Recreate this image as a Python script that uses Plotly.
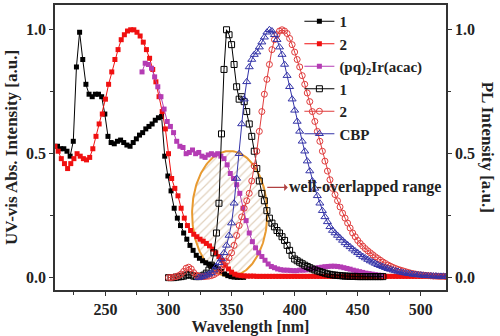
import numpy as np
import plotly.graph_objects as go

# ---------------- data ----------------
abs1_start, abs1_step = 212, 2.5
abs1_vals = [0.53, 0.52, 0.52, 0.51, 0.49, 0.55, 0.85, 0.99, 0.88, 0.78,
             0.74, 0.73, 0.74, 0.74, 0.73, 0.66, 0.57, 0.545, 0.54, 0.55,
             0.555, 0.545, 0.535, 0.53, 0.545, 0.56, 0.575, 0.585, 0.60, 0.61,
             0.62, 0.635, 0.645, 0.65, 0.49, 0.41, 0.35, 0.28, 0.24, 0.21,
             0.18, 0.155, 0.13, 0.11, 0.09, 0.078, 0.068, 0.06, 0.054, 0.048,
             0.043, 0.035, 0.025, 0.015, 0.008, 0.004, 0.002, 0.001, 0.001, 0.001]

abs2_start, abs2_step = 210, 2.5
abs2_vals = [0.53, 0.51, 0.48, 0.46, 0.44, 0.46, 0.48, 0.50, 0.49, 0.48,
             0.475, 0.485, 0.52, 0.57, 0.62, 0.66, 0.72, 0.78, 0.83, 0.88,
             0.92, 0.96, 0.98, 0.995, 1.0, 1.0, 0.99, 0.975, 0.95, 0.92,
             0.885, 0.84, 0.79, 0.73, 0.67, 0.60, 0.50, 0.40, 0.36, 0.33,
             0.28, 0.24, 0.21, 0.19, 0.175, 0.165, 0.155, 0.147, 0.138, 0.128,
             0.115, 0.10, 0.085, 0.07, 0.05, 0.035, 0.022, 0.014, 0.010, 0.008,
             0.007, 0.006, 0.006, 0.006, 0.005, 0.005, 0.005, 0.005, 0.005, 0.005,
             0.005, 0.005, 0.005, 0.005, 0.005, 0.005, 0.005, 0.005, 0.005, 0.005,
             0.005, 0.005, 0.005, 0.005, 0.005, 0.005, 0.005, 0.005, 0.005, 0.005,
             0.005, 0.005, 0.005, 0.005, 0.005, 0.005, 0.005, 0.005, 0.005, 0.005,
             0.005, 0.005, 0.005, 0.005, 0.005, 0.005, 0.005, 0.005, 0.005, 0.005,
             0.005, 0.005, 0.005, 0.005, 0.005, 0.005, 0.005, 0.005, 0.005, 0.005,
             0.005, 0.005, 0.005, 0.005, 0.005]

pq_start, pq_step = 279, 2.5
pq_vals = [0.83, 0.865, 0.86, 0.845, 0.81, 0.77, 0.73, 0.68, 0.63, 0.61,
           0.585, 0.55, 0.53, 0.525, 0.50, 0.505, 0.515, 0.50, 0.505, 0.49,
           0.485, 0.495, 0.50, 0.495, 0.50, 0.49, 0.48, 0.455, 0.42, 0.40,
           0.375, 0.34, 0.28, 0.23, 0.18, 0.145, 0.12, 0.10, 0.085, 0.07,
           0.055, 0.045, 0.04, 0.035, 0.032, 0.03, 0.03, 0.029, 0.028, 0.028,
           0.03, 0.03, 0.031, 0.033, 0.035, 0.038, 0.04, 0.042, 0.044, 0.045,
           0.046, 0.046, 0.045, 0.043, 0.04, 0.037, 0.034, 0.03, 0.027, 0.024,
           0.021, 0.018, 0.016, 0.014, 0.012, 0.010, 0.009]

pl1_start, pl1_step = 300, 2
pl1_vals = [0.0, 0.0, 0.0, 0.002, 0.003, 0.004, 0.006, 0.010, 0.012, 0.010,
            0.006, 0.004, 0.004, 0.006, 0.010, 0.018, 0.03, 0.05, 0.10, 0.18,
            0.30, 0.58, 0.84, 1.0, 0.98, 0.94, 0.86, 0.77, 0.72, 0.73,
            0.71, 0.67, 0.62, 0.57, 0.51, 0.44, 0.39, 0.34, 0.31, 0.27,
            0.24, 0.22, 0.205, 0.19, 0.18, 0.165, 0.15, 0.13, 0.11, 0.09,
            0.075, 0.068, 0.062, 0.056, 0.05, 0.045, 0.04, 0.035, 0.031, 0.027,
            0.024, 0.021, 0.018, 0.015, 0.013, 0.011, 0.010, 0.009, 0.008, 0.007,
            0.006, 0.006, 0.005, 0.005, 0.005, 0.004, 0.004, 0.004, 0.004, 0.004,
            0.004, 0.004, 0.004, 0.004, 0.004, 0.004]

pl2_start, pl2_step = 300, 2
pl2_vals = [0.0, 0.0, 0.002, 0.004, 0.008, 0.014, 0.025, 0.038, 0.042, 0.035,
            0.02, 0.01, 0.006, 0.004, 0.004, 0.005, 0.006, 0.008, 0.012, 0.018,
            0.025, 0.035, 0.05, 0.065, 0.08, 0.10, 0.13, 0.17, 0.21, 0.245,
            0.28, 0.31, 0.34, 0.39, 0.45, 0.51, 0.59, 0.67, 0.74, 0.80,
            0.86, 0.92, 0.96, 0.98, 0.995, 1.0, 0.995, 0.985, 0.965, 0.94,
            0.91, 0.88, 0.85, 0.815, 0.78, 0.745, 0.71, 0.67, 0.63, 0.59,
            0.55, 0.51, 0.47, 0.43, 0.395, 0.36, 0.335, 0.31, 0.285, 0.26,
            0.24, 0.22, 0.20, 0.18, 0.165, 0.15, 0.138, 0.127, 0.117, 0.108,
            0.10, 0.092, 0.084, 0.077, 0.07, 0.063, 0.057, 0.051, 0.046, 0.041,
            0.037, 0.033, 0.03, 0.027, 0.024, 0.021, 0.018, 0.016, 0.014, 0.012,
            0.011, 0.010, 0.009, 0.008, 0.007, 0.006, 0.006, 0.005, 0.005, 0.005, 0.004]

cbp_start, cbp_step = 324, 2
cbp_vals = [0.0, 0.003, 0.006, 0.010, 0.014, 0.02, 0.03, 0.045, 0.06, 0.075,
            0.10, 0.13, 0.17, 0.22, 0.30, 0.40, 0.50, 0.62, 0.72, 0.79,
            0.85, 0.88, 0.90, 0.91, 0.93, 0.95, 0.97, 0.99, 1.0, 0.995,
            0.98, 0.96, 0.93, 0.90, 0.86, 0.815, 0.77, 0.72, 0.675, 0.63,
            0.59, 0.55, 0.51, 0.47, 0.43, 0.39, 0.36, 0.33, 0.30, 0.27,
            0.245, 0.225, 0.205, 0.19, 0.18, 0.17, 0.16, 0.15, 0.14, 0.132,
            0.124, 0.115, 0.107, 0.10, 0.092, 0.085, 0.079, 0.073, 0.067, 0.062,
            0.057, 0.052, 0.048, 0.044, 0.04, 0.036, 0.033, 0.03, 0.027, 0.025,
            0.022, 0.02, 0.018, 0.016, 0.015, 0.013, 0.012, 0.011, 0.010, 0.009,
            0.008, 0.007, 0.007, 0.006, 0.006, 0.005, 0.005, 0.005, 0.004]

x_ticks = [250, 300, 350, 400, 450, 500]
y_ticks = [0.0, 0.5, 1.0]
y_ticktext = ["0.0", "0.5", "1.0"]

# overlap ellipse (annotation region): centre and semi-axes in data units
ell_cx, ell_cy, ell_rx, ell_ry = 348.5, 0.258, 29.8, 0.253


def xs(start, step, vals):
    return start + step * np.arange(len(vals))


FONT = "Liberation Serif"
fig = go.Figure()

t = np.linspace(0, 2 * np.pi, 200)
fig.add_trace(go.Scatter(
    x=ell_cx + ell_rx * np.cos(t), y=ell_cy + ell_ry * np.sin(t),
    mode="lines", fill="toself", fillcolor="rgba(0,0,0,0)",
    fillpattern=dict(shape="/", fgcolor="#c4a47c", bgcolor="rgba(0,0,0,0)", size=6, solidity=0.2),
    line=dict(color="#e89a30", width=2), showlegend=False, hoverinfo="skip"))

fig.add_trace(go.Scatter(
    x=xs(abs1_start, abs1_step, abs1_vals), y=abs1_vals, name="1",
    mode="lines+markers", line=dict(color="black", width=1),
    marker=dict(symbol="square", size=5, color="black")))
fig.add_trace(go.Scatter(
    x=xs(abs2_start, abs2_step, abs2_vals), y=abs2_vals, name="2",
    mode="lines+markers", line=dict(color="#f01010", width=1),
    marker=dict(symbol="square", size=5, color="#f01010")))
fig.add_trace(go.Scatter(
    x=xs(pq_start, pq_step, pq_vals), y=pq_vals, name="(pq)<sub>2</sub>Ir(acac)",
    mode="lines+markers", line=dict(color="#b43cb4", width=1),
    marker=dict(symbol="square", size=5, color="#b43cb4")))
fig.add_trace(go.Scatter(
    x=xs(pl1_start, pl1_step, pl1_vals), y=pl1_vals, name="1", yaxis="y2",
    mode="lines+markers", line=dict(color="black", width=1),
    marker=dict(symbol="square-open", size=6, color="black", line=dict(width=1))))
fig.add_trace(go.Scatter(
    x=xs(pl2_start, pl2_step, pl2_vals), y=pl2_vals, name="2", yaxis="y2",
    mode="lines+markers", line=dict(color="#e03c3c", width=1),
    marker=dict(symbol="circle-open", size=6, color="#e03c3c", line=dict(width=1))))
fig.add_trace(go.Scatter(
    x=xs(cbp_start, cbp_step, cbp_vals), y=cbp_vals, name="CBP", yaxis="y2",
    mode="lines+markers", line=dict(color="#3434a8", width=1),
    marker=dict(symbol="triangle-up-open", size=7, color="#3434a8", line=dict(width=1))))

axis_common = dict(showgrid=False, zeroline=False, linecolor="#333", linewidth=1.5,
                   ticks="outside", ticklen=4, tickcolor="#333",
                   tickfont=dict(family=FONT, size=16, color="#222", weight="bold"))

fig.update_layout(
    width=500, height=336,
    margin=dict(l=55, r=54, t=3, b=46),
    paper_bgcolor="white", plot_bgcolor="white",
    font=dict(family=FONT, size=15, color="#222", weight="bold"),
    xaxis=dict(range=[210, 520], tickvals=x_ticks, mirror=True,
               minor=dict(dtick=25, tick0=0, ticks="outside", ticklen=3, tickcolor="#333"),
               title=dict(text="Wavelength [nm]", font=dict(family=FONT, size=16, weight="bold"), standoff=2),
               **axis_common),
    yaxis=dict(range=[-0.05, 1.1], tickvals=y_ticks, ticktext=y_ticktext,
               minor=dict(dtick=0.25, tick0=0, ticks="outside", ticklen=3, tickcolor="#333"),
               title=dict(text="UV-vis Abs. Intensity [a.u.]", font=dict(family=FONT, size=17, weight="bold"), standoff=4),
               **axis_common),
    yaxis2=dict(range=[-0.05, 1.1], tickvals=y_ticks, ticktext=y_ticktext, overlaying="y", side="right",
                minor=dict(dtick=0.25, tick0=0, ticks="outside", ticklen=3, tickcolor="#333"),
                **axis_common),
    legend=dict(x=0.625, y=1.0, xanchor="left", yanchor="top", bgcolor="rgba(0,0,0,0)",
                font=dict(family=FONT, size=15, color="#222", weight="bold"), tracegroupgap=0),
    showlegend=True,
)

fig.add_annotation(text="PL Intensity [a.u.]", xref="paper", yref="paper", x=1.107, y=0.5,
                   xanchor="center", yanchor="middle",
                   textangle=90, showarrow=False, font=dict(family=FONT, size=17, weight="bold"))
fig.add_annotation(text="well-overlapped range", x=ell_cx + ell_rx, y=0.364, xref="x", yref="y",
                   ax=98, ay=0, showarrow=True, arrowside="start", arrowhead=2, arrowsize=1,
                   arrowwidth=1.2, arrowcolor="#b04040", standoff=0, startstandoff=0,
                   font=dict(family=FONT, size=16, color="#222", weight="bold"))

fig.write_html("out.html")
